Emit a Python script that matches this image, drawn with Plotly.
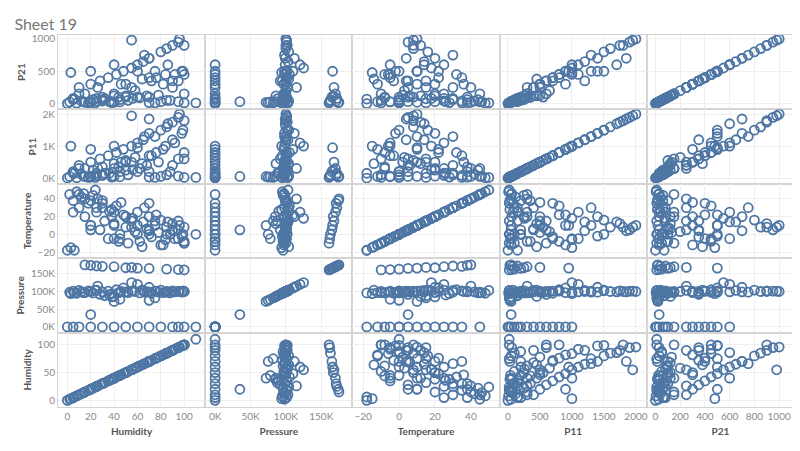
import plotly.graph_objects as go
from plotly.subplots import make_subplots

# records (main ~100K group, 0K group, 160-178K group, outliers)
humidity = [2,5,8,10,12,15,18,20,22,25,28,30,32,35,38,40,42,45,48,50,52,55,58,60,62,65,68,70,72,75,
            78,80,82,85,88,90,92,95,98,100,3,14,26,36,46,56,66,76,86,96,6,24,44,64,84,100,55,70,90,99,
            0,10,20,30,40,50,60,70,80,90,100,5,95,110,
            15,25,40,55,70,85,100,30,60,95,20,50,
            20,40,45,38,70,75]
pressure = [98000,101000,95000,103000,99000,97000,102000,100000,96000,104000,92000,99000,88000,101000,94000,
            86000,105000,98000,110000,99000,97000,125000,100000,120000,96000,103000,99000,112000,95000,101000,
            98000,104000,97000,100000,96000,102000,99000,101000,98000,100000,94000,97000,115000,90000,100000,
            102000,98000,101000,99000,100000,96000,103000,97000,104000,98000,100000,101000,99000,100000,102000,
            0,0,0,0,0,0,0,0,0,0,0,0,0,0,
            175000,172000,170000,168000,165000,163000,161000,171000,166000,162000,174000,167000,
            35000,72000,78000,85000,75000,82000]
temperature = [45,38,48,30,42,20,35,10,44,25,5,38,15,-5,28,12,32,0,22,8,-10,18,3,25,-8,14,6,20,-3,10,
               2,16,-12,8,0,12,-5,5,-2,8,-15,46,40,26,36,18,30,22,14,10,-18,50,-8,-14,-6,-10,8,4,4,0,
               -18,45,10,30,-5,20,0,35,-12,5,-8,25,15,0,
               40,30,25,15,5,0,-10,35,10,-5,38,20,
               5,10,-5,20,0,15]
p11 = [50,200,10,400,120,300,20,500,250,80,600,350,150,700,30,450,800,200,900,550,100,1000,650,1100,300,
       1200,400,1400,700,1300,500,1500,900,1600,200,1750,1100,1900,1400,1800,1000,60,300,150,500,260,1300,
       800,1700,2000,150,20,350,450,1000,600,1950,1850,1200,1500,
       0,300,900,100,1000,500,200,700,50,400,800,150,600,20,
       50,150,300,500,200,100,20,80,950,60,30,250,
       50,50,40,60,30,20]
p21 = [25,60,5,250,40,150,10,300,60,40,350,100,75,400,15,120,450,60,500,100,50,550,200,600,90,
       650,120,700,350,500,130,800,300,850,50,900,450,950,500,900,480,30,250,30,300,80,750,
       400,600,1000,70,10,100,380,450,150,980,700,350,500,
       0,150,500,60,600,300,100,400,30,250,450,80,350,10,
       20,80,150,250,100,50,10,40,500,30,15,120,
       30,20,25,30,15,10]

cols = ["Humidity", "Pressure", "Temperature", "P11", "P21"]
rows = ["P21", "P11", "Temperature", "Pressure", "Humidity"]
data = {"Humidity": humidity, "Pressure": pressure, "Temperature": temperature, "P11": p11, "P21": p21}
xranges = {"Humidity": [-8, 118], "Pressure": [-14000, 194000], "Temperature": [-26, 56],
           "P11": [-130, 2170], "P21": [-70, 1120]}
yranges = {"Humidity": [-12, 122], "Pressure": [-16000, 194000], "Temperature": [-27, 57],
           "P11": [-180, 2150], "P21": [-90, 1060]}
ticks = {"Humidity": [0, 20, 40, 60, 80, 100], "Pressure": [0, 50000, 100000, 150000],
         "Temperature": [-20, 0, 20, 40], "P11": [0, 500, 1000, 1500, 2000],
         "P21": [0, 200, 400, 600, 800, 1000]}
ytick_vals = {"P21": [0, 500, 1000], "P11": [0, 1000, 2000], "Temperature": [-20, 0, 20, 40],
              "Pressure": [0, 50000, 100000, 150000], "Humidity": [0, 50, 100]}
ytick_text = {"P11": ["0K", "1K", "2K"], "Pressure": ["0K", "50K", "100K", "150K"]}
xtick_text = {"Pressure": ["0K", "50K", "100K", "150K"]}

fig = make_subplots(rows=5, cols=5, shared_xaxes=True, shared_yaxes=True,
                    horizontal_spacing=0.0, vertical_spacing=0.0)
blue = "#4e76a4"
grey = "#8a8a8a"
for i, r in enumerate(rows):
    for j, c in enumerate(cols):
        fig.add_trace(go.Scatter(x=data[c], y=data[r], mode="markers", showlegend=False,
                                 marker=dict(symbol="circle-open", size=9, color=blue,
                                             line=dict(width=1.8, color=blue))),
                      row=i + 1, col=j + 1)
        fig.update_xaxes(range=xranges[c], tickvals=ticks[c], ticktext=xtick_text.get(c),
                         showgrid=True, gridcolor="#efefef", zeroline=False,
                         showline=True, linecolor="#d4d4d4", mirror=True,
                         tickfont=dict(size=10, color=grey), row=i + 1, col=j + 1)
        fig.update_yaxes(range=yranges[r], tickvals=ytick_vals[r], ticktext=ytick_text.get(r),
                         showgrid=True, gridcolor="#efefef", zeroline=False,
                         showline=True, linecolor="#d4d4d4", mirror=True,
                         tickfont=dict(size=10, color=grey), row=i + 1, col=j + 1)
    fig.update_yaxes(title=dict(text="<b>" + r + "</b>", font=dict(size=10, color="#555"), standoff=4),
                     row=i + 1, col=1)
for j, c in enumerate(cols):
    fig.update_xaxes(title=dict(text="<b>" + c + "</b>", font=dict(size=10, color="#555"), standoff=6),
                     row=5, col=j + 1)

fig.update_layout(width=800, height=451, plot_bgcolor="white", paper_bgcolor="white",
                  font=dict(family="Lato, Open Sans, sans-serif"),
                  margin=dict(l=48, r=14, t=27, b=52),
                  title=dict(text="Sheet 19", x=0.008, y=0.975, xanchor="left",
                             font=dict(size=16, color="#777")))
fig.write_html("out.html")
